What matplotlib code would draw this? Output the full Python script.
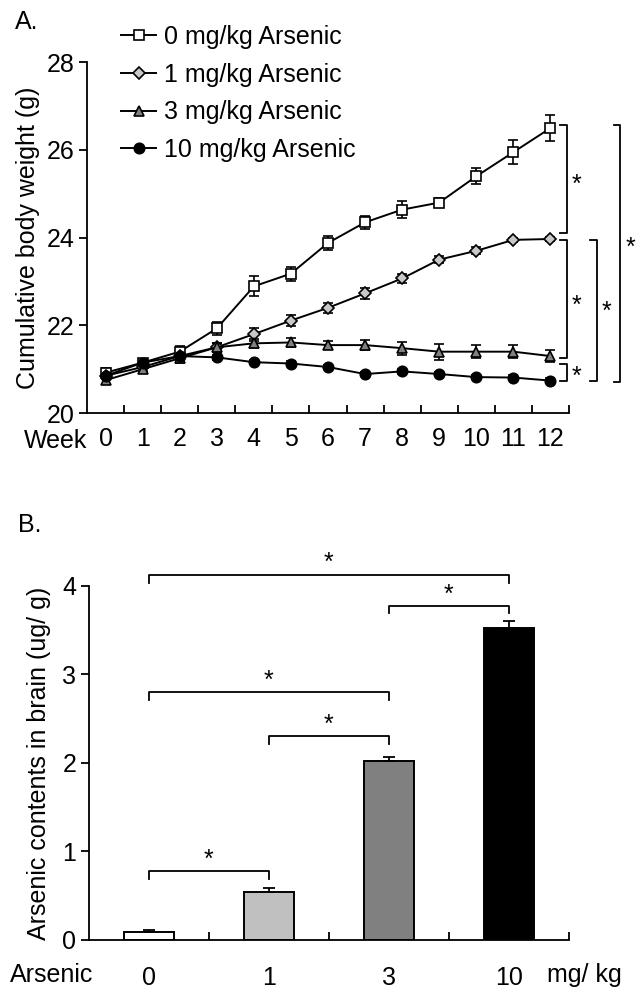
import numpy as np
import matplotlib
matplotlib.use('Agg')
import matplotlib.pyplot as plt
from matplotlib.lines import Line2D

plt.rcParams['font.family'] = ['Liberation Sans', 'DejaVu Sans']
plt.rcParams['font.size'] = 18

# panel A data: cumulative body weight (g) by week
weeks = list(range(13))
w_0mg = [20.92, 21.15, 21.4, 21.93, 22.89, 23.18, 23.88, 24.35, 24.64, 24.8, 25.4, 25.95, 26.5]
e_0mg = [0.1, 0.08, 0.13, 0.15, 0.23, 0.16, 0.15, 0.15, 0.2, 0.1, 0.18, 0.27, 0.3]
w_1mg = [20.85, 21.05, 21.3, 21.5, 21.8, 22.11, 22.4, 22.73, 23.07, 23.5, 23.7, 23.95, 23.97]
e_1mg = [0.08, 0.08, 0.1, 0.1, 0.15, 0.12, 0.12, 0.13, 0.1, 0.08, 0.08, 0.05, 0.05]
w_3mg = [20.75, 21.0, 21.25, 21.5, 21.59, 21.61, 21.55, 21.55, 21.48, 21.4, 21.4, 21.4, 21.3]
e_3mg = [0.08, 0.08, 0.1, 0.1, 0.1, 0.1, 0.1, 0.12, 0.15, 0.18, 0.15, 0.15, 0.13]
w_10mg = [20.85, 21.15, 21.3, 21.27, 21.16, 21.13, 21.05, 20.89, 20.95, 20.89, 20.82, 20.81, 20.74]
e_10mg = [0.05] * 13
labels_a = ['0 mg/kg Arsenic', '1 mg/kg Arsenic', '3 mg/kg Arsenic', '10 mg/kg Arsenic']

# panel B data: arsenic contents in brain (ug/g)
doses = ['0', '1', '3', '10']
brain = [0.09, 0.54, 2.02, 3.52]
brain_err = [0.02, 0.05, 0.05, 0.08]
bar_colors = ['white', '#c0c0c0', '#808080', 'black']

fig = plt.figure(figsize=(6.4, 10.05), dpi=100)

# ---- A ----
ax1 = fig.add_axes([0.136, 0.589, 0.753, 0.349])
styles = [('s', 'white'), ('D', '#c8c8c8'), ('^', '#808080'), ('o', 'black')]
series = [(w_0mg, e_0mg), (w_1mg, e_1mg), (w_3mg, e_3mg), (w_10mg, e_10mg)]
handles = []
for (vals, errs), (mk, fc), lab in zip(series, styles, labels_a):
    ms = 6.5 if mk == 'D' else 7.5
    kw = dict(color='black', marker=mk, markersize=ms, markerfacecolor=fc,
              markeredgecolor='black', markeredgewidth=1.2, linewidth=1.4)
    ax1.errorbar(weeks, vals, yerr=errs, capsize=3.5, elinewidth=1.2, capthick=1.2, **kw)
    handles.append(Line2D([], [], **kw))

ax1.set_xlim(-0.5, 12.5)
ax1.set_ylim(20, 28)
ax1.set_yticks([20, 22, 24, 26, 28])
ax1.set_xticks(np.arange(0.5, 13, 1))
ax1.set_xticklabels([])
ax1.set_xticks(weeks, minor=True)
ax1.set_xticklabels([str(w) for w in weeks], minor=True)
ax1.tick_params(axis='x', which='major', direction='in', length=6, width=1.3)
ax1.tick_params(axis='x', which='minor', length=0, pad=10)
ax1.tick_params(axis='y', direction='out', length=6, width=1.3, pad=3)
for s in ['top', 'right']:
    ax1.spines[s].set_visible(False)
for s in ['left', 'bottom']:
    ax1.spines[s].set_linewidth(1.3)
ax1.set_ylabel('Cumulative body weight (g)', labelpad=5)
fig.text(24 / 640, 1 - 441 / 1005, 'Week', ha='left', va='center')
fig.text(15 / 640, 1 - 22 / 1005, 'A.', ha='left', va='center')

ax1.legend(handles=handles, labels=labels_a, loc='upper left',
           bbox_to_anchor=(121 / 640, 1 - 25 / 1005), bbox_transform=fig.transFigure,
           frameon=False, handlelength=1.4, handletextpad=0.3, labelspacing=0.55,
           borderpad=0, borderaxespad=0)

# significance brackets (A)
def vbracket(ax, x, y0, y1, tick, sx, sy):
    ax.plot([x - tick, x, x, x - tick], [y0, y0, y1, y1], color='black', lw=1.3, clip_on=False)
    ax.text(sx, sy, '*', ha='center', va='center', fontsize=18)

vbracket(ax1, 12.44, 26.58, 24.1, 0.19, 12.71, 25.2)
vbracket(ax1, 12.44, 23.94, 21.25, 0.19, 12.71, 22.45)
vbracket(ax1, 12.44, 21.12, 20.73, 0.19, 12.71, 20.83)
vbracket(ax1, 13.25, 23.94, 20.73, 0.19, 13.5, 22.3)
vbracket(ax1, 13.87, 26.56, 20.71, 0.15, 14.17, 23.77)

# ---- B ----
ax2 = fig.add_axes([0.139, 0.0647, 0.75, 0.3523])
xpos = np.arange(len(doses))
ax2.bar(xpos, brain, width=0.42, color=bar_colors, edgecolor='black', linewidth=1.4)
ax2.errorbar(xpos, brain, yerr=[[0] * 4, brain_err], fmt='none', ecolor='black',
             elinewidth=1.3, capsize=4, capthick=1.3)
ax2.set_xlim(-0.5, 3.5)
ax2.set_ylim(0, 4)
ax2.set_yticks([0, 1, 2, 3, 4])
ax2.set_xticks(np.arange(0.5, 4, 1))
ax2.set_xticklabels([])
ax2.set_xticks(xpos, minor=True)
ax2.set_xticklabels(doses, minor=True)
ax2.tick_params(axis='x', which='major', direction='in', length=6, width=1.3)
ax2.tick_params(axis='x', which='minor', length=0, pad=19)
ax2.tick_params(axis='y', direction='out', length=6, width=1.3, pad=3)
for s in ['top', 'right']:
    ax2.spines[s].set_visible(False)
for s in ['left', 'bottom']:
    ax2.spines[s].set_linewidth(1.3)
ax2.set_ylabel('Arsenic contents in brain (ug/ g)', labelpad=8)
fig.text(10 / 640, 1 - 975 / 1005, 'Arsenic', ha='left', va='center')
fig.text(547 / 640, 1 - 975 / 1005, 'mg/ kg', ha='left', va='center')
fig.text(18 / 640, 1 - 525 / 1005, 'B.', ha='left', va='center')

# significance brackets (B)
def hbracket(ax, x0, x1, y, drop, sy):
    ax.plot([x0, x0, x1, x1], [y - drop, y, y, y - drop], color='black', lw=1.3, clip_on=False)
    ax.text((x0 + x1) / 2, sy, '*', ha='center', va='center', fontsize=18)

hbracket(ax2, 0, 3, 4.12, 0.09, 4.26)
hbracket(ax2, 2, 3, 3.77, 0.08, 3.9)
hbracket(ax2, 0, 2, 2.80, 0.09, 2.93)
hbracket(ax2, 1, 2, 2.30, 0.09, 2.43)
hbracket(ax2, 0, 1, 0.78, 0.09, 0.91)

fig.savefig('out.png', dpi=100)
